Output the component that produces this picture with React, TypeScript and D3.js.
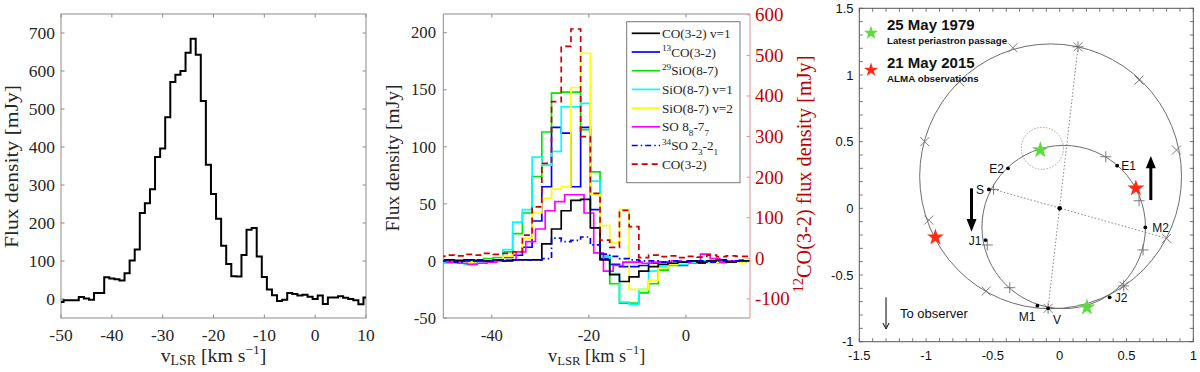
import * as d3 from 'd3';

// ---------- left panel: CO(3-2) spectrum ----------
const velA = [-50, -49, -48, -47, -46, -45, -44, -43, -42, -41, -40, -39, -38, -37, -36, -35, -34, -33, -32, -31, -30, -29, -28, -27, -26, -25, -24, -23, -22, -21, -20, -19, -18, -17, -16, -15, -14, -13, -12, -11, -10, -9, -8, -7, -6, -5, -4, -3, -2, -1, 0, 1, 2, 3, 4, 5, 6, 7, 8, 9, 10];
const fluxA = [-8, -3, -3, -3, 5, 1, -2, 16, 16, 57, 54, 52, 49, 68, 101, 130, 226, 252, 289, 374, 396, 478, 571, 590, 600, 648, 685, 643, 521, 353, 276, 211, 140, 92, 60, 59, 116, 182, 187, 112, 58, 25, 10, -5, -2, 16, 13, 9, 11, 6, 0, 9, -13, 4, 4, 7, 3, 0, -3, -14, 4];
const xTicksA = [-50, -40, -30, -20, -10, 0, 10];
const yTicksA = [0, 100, 200, 300, 400, 500, 600, 700];

// ---------- middle panel: line spectra ----------
const velB = [-50.7, -48.7, -46.7, -44.7, -42.7, -40.7, -38.7, -36.7, -34.7, -32.7, -30.7, -28.7, -26.7, -24.7, -22.7, -20.7, -18.7, -16.7, -14.7, -12.7, -10.7, -8.7, -6.7, -4.7, -2.7, -0.7, 1.3, 3.3, 5.3, 7.3, 9.3, 11.3, 13.3];
const coV1 = [0, 1, 0, 1, 0, 0, 1, 0, 1, 1, 1, 15, 28, 44, 53, 54, 29, 1, -12, -18, -14, -9, -5, -3, -2, -1, 0, -1, 0, 1, -1, 0, 0];
const co13 = [-1, -1, -2, -1, 0, 0, 1, 3, 5, 12, 35, 65, 117, 112, 65, 117, 45, 2, -3, -5, -5, -4, -2, -1, -3, -4, -1, -2, -1, -2, 0, -1, 0];
const sio29 = [1, 0, 1, 0, 1, 2, 3, 8, 24, 42, 74, 113, 147, 148, 148, 115, 78, 4, -20, -37, -37, -28, -20, -8, -4, -3, -2, -1, -2, -1, 0, -1, 0];
const sioV1 = [-1, -2, -2, -3, -2, -1, 0, 10, 34, 45, 91, 84, 96, 135, 135, 138, 70, 4, -11, -36, -38, -25, -9, -5, -2, -3, -1, 0, -1, -2, -1, 0, 0];
const sioV2 = [0, 1, 0, -1, 0, 0, 1, 4, 8, 20, 42, 55, 63, 65, 152, 182, 58, 31, 16, 45, -25, -25, -17, -6, -3, -2, 0, -1, -2, -1, 0, -1, 0];
const so34 = [0, 0, -1, 0, 1, 0, 1, 0, 1, 1, 1, 2, 20, 17, 18, 21, 14, 6, 4, 2, 1, 0, 0, -1, 0, -1, 0, 0, -1, 0, 0, 0, 0];
const co32 = [5, 8, 6, 10, 8, 12, 10, 12, 16, 57, 127, 234, 386, 522, 565, 300, 160, 45, 27, 118, 78, 2, 8, 4, 6, 2, 5, 3, 8, 4, 6, 5, 5];
const velSO = [-50, -48, -46, -44, -42, -40, -38, -36, -34, -32, -30, -28, -26, -24, -22, -20, -18, -16, -14, -12, -10, -8, -6, -4, -2, 0, 2, 4, 6, 8, 10, 12];
const so88 = [0, -1, -2, -3, -2, -1, 0, 1, 8, 17, 28, 44, 52, 58, 58, 42, 7, -9, -4, -1, -1, -2, -1, -1, 0, -1, 0, 6, 2, -1, 0, 1];
const xTicksB = [-40, -20, 0];
const yTicksBL = [-50, 0, 50, 100, 150, 200];
const yTicksBR = [-100, 0, 100, 200, 300, 400, 500, 600];

// ---------- right panel: orbit ----------
// orbits read off as ellipses: centre x, centre y, semi-axes
const outerOrbit = [-0.068, 0.24, 0.98, 0.993];
const innerOrbit = [0.03, -0.14, 0.612, 0.612];
const crossMarks = [[-0.35, 1.204], [0.137, 1.211], [0.594, 0.962], [0.874, 0.437], [0.8, -0.225], [0.479, -0.582], [-0.087, -0.75], [-0.55, -0.62], [-0.98, -0.088], [-1.01, 0.5], [-0.749, 0.949]];
const plusMarks = [[0.345, 0.387], [0.594, 0.057], [0.624, -0.312], [0.479, -0.582], [-0.087, -0.75], [-0.374, -0.595], [-0.542, -0.275], [-0.495, 0.142], [0.137, 1.211]];
const namedPoints = [
  { name: 'E2', x: -0.387, y: 0.3, dx: -4, dy: 0, anchor: 'end' },
  { name: 'E1', x: 0.43, y: 0.32, dx: 4, dy: 0, anchor: 'start' },
  { name: 'S', x: -0.53, y: 0.142, dx: -5, dy: 0, anchor: 'end' },
  { name: 'J1', x: -0.555, y: -0.238, dx: -4, dy: 1, anchor: 'end' },
  { name: 'M2', x: 0.641, y: -0.143, dx: 7, dy: 0, anchor: 'start' },
  { name: 'J2', x: 0.374, y: -0.667, dx: 5, dy: 1, anchor: 'start' },
  { name: 'M1', x: -0.167, y: -0.73, dx: -2, dy: 11, anchor: 'end' },
  { name: 'V', x: -0.087, y: -0.75, dx: 5, dy: 11, anchor: 'start' },
];
const lineOfNodes = [[0.137, 1.211], [-0.087, -0.75]];
const lineOfApsides = [[-0.495, 0.142], [0.8, -0.225]];
const greenStars = [[-0.145, 0.437], [0.204, -0.742]];
const redStars = [[0.57, 0.15], [-0.93, -0.217]];
const xTicksC = [-1.5, -1, -0.5, 0, 0.5, 1];
const yTicksC = [-1, -0.5, 0, 0.5, 1, 1.5];

const legendB = [
  { color: '#000000', dash: null, parts: [['CO(3-2) v=1', 0]] },
  { color: '#0000ff', dash: null, parts: [['13', 1], ['CO(3-2)', 0]] },
  { color: '#00e600', dash: null, parts: [['29', 1], ['SiO(8-7)', 0]] },
  { color: '#00ffff', dash: null, parts: [['SiO(8-7) v=1', 0]] },
  { color: '#ffff00', dash: null, parts: [['SiO(8-7) v=2', 0]] },
  { color: '#ff00ff', dash: null, parts: [['SO 8', 0], ['8', -1], ['-7', 0], ['7', -1]] },
  { color: '#0000ff', dash: '6 3 1.5 3', parts: [['34', 1], ['SO 2', 0], ['3', -1], ['-2', 0], ['1', -1]] },
  { color: '#cc0000', dash: '6 4', parts: [['CO(3-2)', 0]] },
];

const SERIF = '"Liberation Serif", "Times New Roman", serif';
const SANS = '"Liberation Sans", Arial, Helvetica, sans-serif';
const AX = '#8c8c8c';
const TXT = '#262626';
const RED = '#c00000';

function stepPath(xs: number[], ys: number[], x: any, y: any) {
  return d3.line<number>().x((_, i) => x(xs[i])).y(d => y(d)).curve(d3.curveStep)(ys) || '';
}

function Scripts({ parts, size }: { parts: any[]; size: number }) {
  // parts: [text, level] with level 1 = superscript, -1 = subscript
  let prev = 0;
  return (
    <>
      {parts.map(([t, lvl], i) => {
        const off = (lvl - prev) * -size * 0.38;
        prev = lvl;
        return (
          <tspan key={i} dy={off} fontSize={lvl === 0 ? size : size * 0.7}>{t}</tspan>
        );
      })}
    </>
  );
}

function VlsrLabel({ x, y, size }: { x: number; y: number; size: number }) {
  return (
    <text x={x} y={y} textAnchor="middle" fontFamily={SERIF} fontSize={size} fill={TXT}>
      v<tspan fontSize={size * 0.7} dy={3}>LSR</tspan>
      <tspan dy={-3}>{'  [km s'}</tspan>
      <tspan fontSize={size * 0.68} dy={-8}>−1</tspan>
      <tspan dy={8}>]</tspan>
    </text>
  );
}

function LeftPanel() {
  const x = d3.scaleLinear().domain([-50, 10]).range([61, 366]);
  const y = d3.scaleLinear().domain([-50, 750]).range([318, 14]);
  const [x0, x1] = x.range();
  const [y0, y1] = y.range();
  return (
    <g>
      <defs>
        <clipPath id="clipA"><rect x={x0} y={y1} width={x1 - x0} height={y0 - y1} /></clipPath>
      </defs>
      <rect x={x0} y={y1} width={x1 - x0} height={y0 - y1} fill="#fff" stroke={AX} strokeWidth={1} />
      {xTicksA.map(t => (
        <g key={t}>
          <line x1={x(t)} x2={x(t)} y1={y0} y2={y0 - 3.5} stroke={AX} />
          <line x1={x(t)} x2={x(t)} y1={y1} y2={y1 + 3.5} stroke={AX} />
          <text x={x(t)} y={341} textAnchor="middle" fontFamily={SERIF} fontSize={17.5} fill={TXT}>{t}</text>
        </g>
      ))}
      {yTicksA.map(t => (
        <g key={t}>
          <line x1={x0} x2={x0 + 3.5} y1={y(t)} y2={y(t)} stroke={AX} />
          <line x1={x1} x2={x1 - 3.5} y1={y(t)} y2={y(t)} stroke={AX} />
          <text x={55} y={y(t)} dy="0.34em" textAnchor="end" fontFamily={SERIF} fontSize={17.5} fill={TXT}>{t}</text>
        </g>
      ))}
      <path d={stepPath(velA, fluxA, x, y)} fill="none" stroke="#000" strokeWidth={2} clipPath="url(#clipA)" />
      <text transform={`translate(18,166.5) rotate(-90)`} textAnchor="middle" fontFamily={SERIF} fontSize={19.8} fill={TXT} textLength={163} lengthAdjust="spacingAndGlyphs">Flux density [mJy]</text>
      <VlsrLabel x={(x0 + x1) / 2} y={362} size={19.8} />
    </g>
  );
}

function MiddlePanel() {
  const x = d3.scaleLinear().domain([-50, 13.2]).range([443.3, 750]);
  const yL = d3.scaleLinear().domain([-50, 216.4]).range([318, 14]);
  const yR = d3.scaleLinear().domain([-147, 602]).range([318, 14]);
  const [x0, x1] = x.range();
  const [y0, y1] = yL.range();
  const series = [
    { v: velB, d: co13, c: '#0000ff', dash: null, s: yL },
    { v: velB, d: sio29, c: '#00e600', dash: null, s: yL },
    { v: velB, d: sioV1, c: '#00ffff', dash: null, s: yL },
    { v: velB, d: sioV2, c: '#ffff00', dash: null, s: yL },
    { v: velSO, d: so88, c: '#ff00ff', dash: null, s: yL },
    { v: velB, d: coV1, c: '#000000', dash: null, s: yL },
    { v: velB, d: so34, c: '#0000ff', dash: '6 3 1.5 3', s: yL },
    { v: velB, d: co32, c: '#cc0000', dash: '6 4', s: yR },
  ];
  const lg = { x: 626.7, y: 21.7, w: 113.3, h: 161, row: 18.7 };
  return (
    <g>
      <defs>
        <clipPath id="clipB"><rect x={x0} y={y1} width={x1 - x0} height={y0 - y1} /></clipPath>
      </defs>
      <rect x={x0} y={y1} width={x1 - x0} height={y0 - y1} fill="#fff" stroke="none" />
      <line x1={x0} x2={x1} y1={y0} y2={y0} stroke={AX} />
      <line x1={x0} x2={x1} y1={y1} y2={y1} stroke={AX} />
      <line x1={x0} x2={x0} y1={y0} y2={y1} stroke={AX} />
      {xTicksB.map(t => (
        <g key={t}>
          <line x1={x(t)} x2={x(t)} y1={y0} y2={y0 - 3.5} stroke={AX} />
          <line x1={x(t)} x2={x(t)} y1={y1} y2={y1 + 3.5} stroke={AX} />
          <text x={x(t)} y={341} textAnchor="middle" fontFamily={SERIF} fontSize={16.7} fill={TXT}>{t}</text>
        </g>
      ))}
      {yTicksBL.map(t => (
        <g key={t}>
          <line x1={x0} x2={x0 + 3.5} y1={yL(t)} y2={yL(t)} stroke={AX} />
          <text x={436} y={yL(t)} dy="0.34em" textAnchor="end" fontFamily={SERIF} fontSize={16.7} fill={TXT}>{t}</text>
        </g>
      ))}
      {series.map((s, i) => (
        <path key={i} d={stepPath(s.v, s.d, x, s.s)} fill="none" stroke={s.c} strokeWidth={1.7} strokeDasharray={s.dash || undefined} clipPath="url(#clipB)" />
      ))}
      <line x1={x1} x2={x1} y1={y0} y2={y1} stroke="#e89090" />
      {yTicksBR.map(t => (
        <g key={t}>
          <line x1={x1} x2={x1 - 3.5} y1={yR(t)} y2={yR(t)} stroke="#e89090" />
          <text x={755} y={yR(t)} dy="0.34em" textAnchor="start" fontFamily={SERIF} fontSize={18.9} fill={RED}>{t}</text>
        </g>
      ))}
      <text transform={`translate(399,158) rotate(-90)`} textAnchor="middle" fontFamily={SERIF} fontSize={18} fill={TXT} textLength={147} lengthAdjust="spacingAndGlyphs">Flux density [mJy]</text>
      <text transform={`translate(811,174) rotate(-90)`} textAnchor="middle" fontFamily={SERIF} fontSize={20.3} fill={RED}>
        <tspan fontSize={14.5} dy={-8}>12</tspan><tspan dy={8}>CO(3-2) flux density [mJy]</tspan>
      </text>
      <VlsrLabel x={(x0 + x1) / 2} y={362} size={18.2} />
      {/* legend */}
      <rect x={lg.x} y={lg.y} width={lg.w} height={lg.h} fill="#fff" stroke="#777" strokeWidth={1} />
      {legendB.map((e, i) => {
        const cy = 33.3 + i * lg.row;
        return (
          <g key={i}>
            <line x1={631.7} x2={660} y1={cy} y2={cy} stroke={e.color} strokeWidth={1.7} strokeDasharray={e.dash || undefined} />
            <text x={662} y={cy + 4.5} fontFamily={SERIF} fontSize={13.2} fill={TXT}>
              <Scripts parts={e.parts} size={13.2} />
            </text>
          </g>
        );
      })}
    </g>
  );
}

function star(size: number) {
  return d3.symbol().type(d3.symbolStar).size(size)() || '';
}

function RightPanel() {
  const x = d3.scaleLinear().domain([-1.5, 1]).range([859.3, 1193.3]);
  const y = d3.scaleLinear().domain([-1, 1.5]).range([341.7, 8.3]);
  const [x0, x1] = x.range();
  const [y0, y1] = y.range();
  const minorX = d3.range(-15, 11).map(i => i / 10);
  const minorY = d3.range(-10, 16).map(i => i / 10);
  const BOX = '#555';
  const ORB = '#6e6e6e';
  const ell = (o: number[]) => (
    <ellipse cx={x(o[0])} cy={y(o[1])} rx={x(o[2]) - x(0)} ry={y(0) - y(o[3])} fill="none" stroke={ORB} strokeWidth={1} />
  );
  return (
    <g fontFamily={SANS}>
      <rect x={x0} y={y1} width={x1 - x0} height={y0 - y1} fill="#fff" stroke={BOX} strokeWidth={1} />
      {minorX.map(t => (
        <g key={'x' + t}>
          <line x1={x(t)} x2={x(t)} y1={y0} y2={y0 - 3.5} stroke={BOX} strokeWidth={0.8} />
          <line x1={x(t)} x2={x(t)} y1={y1} y2={y1 + 3.5} stroke={BOX} strokeWidth={0.8} />
        </g>
      ))}
      {minorY.map(t => (
        <g key={'y' + t}>
          <line x1={x0} x2={x0 + 3.5} y1={y(t)} y2={y(t)} stroke={BOX} strokeWidth={0.8} />
          <line x1={x1} x2={x1 - 3.5} y1={y(t)} y2={y(t)} stroke={BOX} strokeWidth={0.8} />
        </g>
      ))}
      {xTicksC.map(t => (
        <text key={t} x={x(t)} y={360} textAnchor="middle" fontSize={13} fill="#111">{t}</text>
      ))}
      {yTicksC.map(t => (
        <text key={t} x={853.5} y={y(t)} dy="0.35em" textAnchor="end" fontSize={13} fill="#111">{t}</text>
      ))}
      {/* dotted reference lines */}
      {[lineOfNodes, lineOfApsides].map((l, i) => (
        <line key={i} x1={x(l[0][0])} y1={y(l[0][1])} x2={x(l[1][0])} y2={y(l[1][1])} stroke="#777" strokeWidth={0.9} strokeDasharray="1.5 2" />
      ))}
      <circle cx={x(-0.13)} cy={y(0.45)} r={21} fill="none" stroke="#999" strokeWidth={0.9} strokeDasharray="1.5 1.5" />
      {ell(outerOrbit)}
      {ell(innerOrbit)}
      {crossMarks.map((p, i) => (
        <path key={'c' + i} d={`M${x(p[0]) - 4.5},${y(p[1]) - 4.5}l9,9M${x(p[0]) - 4.5},${y(p[1]) + 4.5}l9,-9`} stroke={ORB} strokeWidth={0.9} />
      ))}
      {plusMarks.map((p, i) => (
        <path key={'p' + i} d={`M${x(p[0]) - 5.5},${y(p[1])}h11M${x(p[0])},${y(p[1]) - 5.5}v11`} stroke={ORB} strokeWidth={0.9} />
      ))}
      <circle cx={x(0)} cy={y(0)} r={2.3} fill="#000" />
      {namedPoints.map(p => (
        <g key={p.name}>
          <circle cx={x(p.x)} cy={y(p.y)} r={1.9} fill="#000" />
          <text x={x(p.x) + p.dx} y={y(p.y) + p.dy} dy="0.35em" textAnchor={p.anchor} fontSize={12} fill="#111">{p.name}</text>
        </g>
      ))}
      {/* motion arrows */}
      <line x1={x(-0.66)} x2={x(-0.66)} y1={y(0.15)} y2={y(-0.1)} stroke="#000" strokeWidth={3} />
      <path d={`M${x(-0.66) - 5},${y(-0.08)}L${x(-0.66) + 5},${y(-0.08)}L${x(-0.66)},${y(-0.175)}Z`} fill="#000" />
      <line x1={x(0.682)} x2={x(0.682)} y1={y(0.062)} y2={y(0.32)} stroke="#000" strokeWidth={3} />
      <path d={`M${x(0.682) - 5},${y(0.3)}L${x(0.682) + 5},${y(0.3)}L${x(0.682)},${y(0.392)}Z`} fill="#000" />
      {/* to observer */}
      <line x1={x(-1.3)} x2={x(-1.3)} y1={y(-0.667)} y2={y(-0.89)} stroke="#000" strokeWidth={1} />
      <path d={`M${x(-1.3) - 3},${y(-0.86)}L${x(-1.3)},${y(-0.905)}L${x(-1.3) + 3},${y(-0.86)}`} fill="none" stroke="#000" strokeWidth={1} />
      <text x={900} y={y(-0.79)} dy="0.35em" fontSize={13} fill="#111">To observer</text>
      {greenStars.map((p, i) => (
        <path key={'g' + i} d={star(88)} transform={`translate(${x(p[0])},${y(p[1])})`} fill="#5cdc3c" />
      ))}
      {redStars.map((p, i) => (
        <path key={'r' + i} d={star(88)} transform={`translate(${x(p[0])},${y(p[1])})`} fill="#ff2a14" />
      ))}
      {/* legend */}
      <path d={star(62)} transform="translate(871,33)" fill="#5cdc3c" />
      <text x={887} y={30} fontSize={15} fontWeight="bold" fill="#111">25 May 1979</text>
      <text x={887} y={43.5} fontSize={9.7} fontWeight="bold" fill="#111">Latest periastron passage</text>
      <path d={star(62)} transform="translate(871,70)" fill="#ff2a14" />
      <text x={887} y={68} fontSize={15} fontWeight="bold" fill="#111">21 May 2015</text>
      <text x={887} y={81.5} fontSize={9.8} fontWeight="bold" fill="#111">ALMA observations</text>
    </g>
  );
}

export default function App() {
  return (
    <svg width={1200} height={372} style={{ position: 'absolute', left: 0, top: 0, background: '#fff' }}>
      <rect width={1200} height={372} fill="#fff" />
      <LeftPanel />
      <MiddlePanel />
      <RightPanel />
    </svg>
  );
}
